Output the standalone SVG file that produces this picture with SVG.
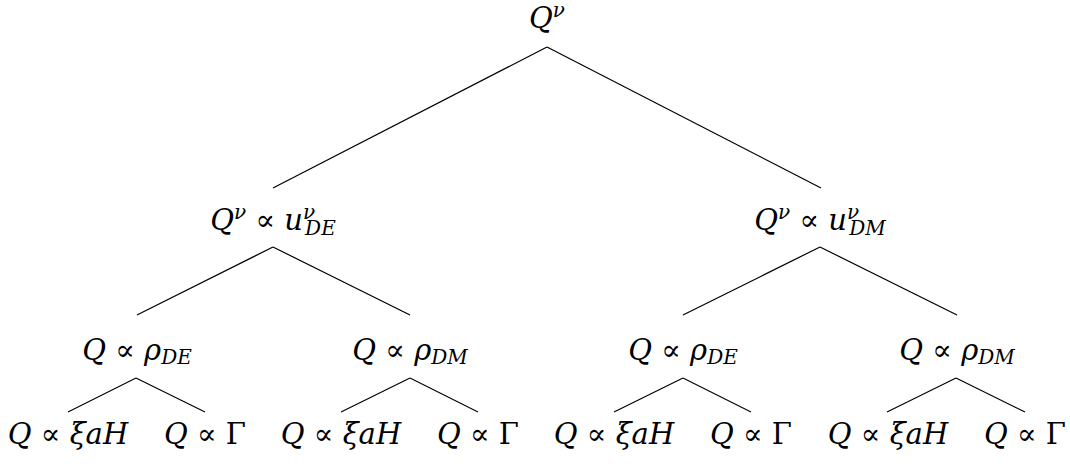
<svg xmlns="http://www.w3.org/2000/svg" width="1070" height="468" viewBox="0 0 1070 468">
<style>
text{font-family:"DejaVu Serif","Liberation Serif",serif;font-size:29px;fill:#000;text-anchor:middle}
.i{font-style:italic}
.s{font-size:20px;font-style:italic}
line{stroke:#000;stroke-width:1.2}
</style>
<rect width="1070" height="468" fill="#fff"/>
<g id="connectors">
<line x1="547" y1="47" x2="273" y2="188"/>
<line x1="547" y1="47" x2="821" y2="188"/>
<line x1="273" y1="247" x2="137" y2="315"/>
<line x1="273" y1="247" x2="410" y2="315"/>
<line x1="820" y1="247" x2="683" y2="315"/>
<line x1="820" y1="247" x2="957" y2="315"/>
<line x1="136" y1="378" x2="68" y2="412"/>
<line x1="136" y1="378" x2="205" y2="412"/>
<line x1="410" y1="378" x2="341" y2="412"/>
<line x1="410" y1="378" x2="478" y2="412"/>
<line x1="683" y1="378" x2="614" y2="412"/>
<line x1="683" y1="378" x2="751" y2="412"/>
<line x1="956" y1="378" x2="887" y2="412"/>
<line x1="956" y1="378" x2="1025" y2="412"/>
</g>
<g id="root"><text x="547" y="28"><tspan class="i">Q</tspan><tspan class="s" dy="-11">ν</tspan></text></g>
<g id="n-ude"><text x="273" y="230"><tspan class="i">Q</tspan><tspan class="s" dy="-11">ν</tspan><tspan dy="11"> ∝ </tspan><tspan class="i">u</tspan><tspan class="s" dy="-11">ν</tspan><tspan class="s" dx="-10" dy="16">DE</tspan></text></g>
<g id="n-udm"><text x="820" y="230"><tspan class="i">Q</tspan><tspan class="s" dy="-11">ν</tspan><tspan dy="11"> ∝ </tspan><tspan class="i">u</tspan><tspan class="s" dy="-11">ν</tspan><tspan class="s" dx="-10" dy="16">DM</tspan></text></g>
<g id="n-rde1"><text x="137" y="360"><tspan class="i">Q</tspan> ∝ <tspan class="i">ρ</tspan><tspan class="s" dy="4">DE</tspan></text></g>
<g id="n-rdm1"><text x="410" y="360"><tspan class="i">Q</tspan> ∝ <tspan class="i">ρ</tspan><tspan class="s" dy="4">DM</tspan></text></g>
<g id="n-rde2"><text x="683" y="360"><tspan class="i">Q</tspan> ∝ <tspan class="i">ρ</tspan><tspan class="s" dy="4">DE</tspan></text></g>
<g id="n-rdm2"><text x="957" y="360"><tspan class="i">Q</tspan> ∝ <tspan class="i">ρ</tspan><tspan class="s" dy="4">DM</tspan></text></g>
<g id="l1"><text x="68" y="444"><tspan class="i">Q</tspan> ∝ <tspan class="i">ξaH</tspan></text></g>
<g id="l2"><text x="205" y="444"><tspan class="i">Q</tspan> ∝ Γ</text></g>
<g id="l3"><text x="341" y="444"><tspan class="i">Q</tspan> ∝ <tspan class="i">ξaH</tspan></text></g>
<g id="l4"><text x="478" y="444"><tspan class="i">Q</tspan> ∝ Γ</text></g>
<g id="l5"><text x="614" y="444"><tspan class="i">Q</tspan> ∝ <tspan class="i">ξaH</tspan></text></g>
<g id="l6"><text x="751" y="444"><tspan class="i">Q</tspan> ∝ Γ</text></g>
<g id="l7"><text x="888" y="444"><tspan class="i">Q</tspan> ∝ <tspan class="i">ξaH</tspan></text></g>
<g id="l8"><text x="1025" y="444"><tspan class="i">Q</tspan> ∝ Γ</text></g>
</svg>
